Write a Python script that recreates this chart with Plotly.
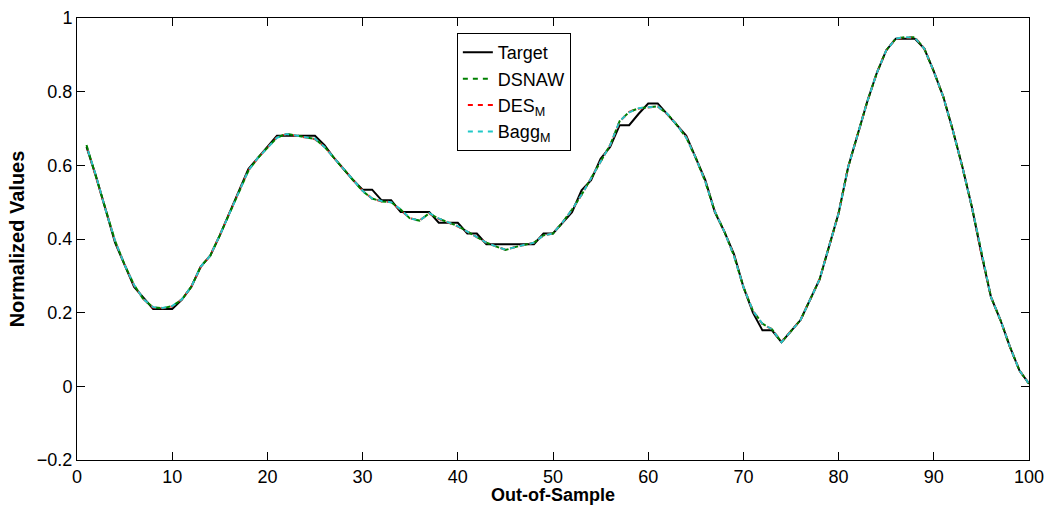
import plotly.graph_objects as go

x_vals = list(range(1, 101))

target = [0.65, 0.57, 0.48, 0.39, 0.33, 0.27, 0.24, 0.21, 0.21, 0.21,
          0.235, 0.27, 0.325, 0.355, 0.41, 0.47, 0.53, 0.59, 0.62, 0.65,
          0.68, 0.68, 0.68, 0.68, 0.68, 0.655, 0.62, 0.59, 0.56, 0.534,
          0.534, 0.505, 0.505, 0.473, 0.473, 0.473, 0.473, 0.444, 0.444, 0.444,
          0.415, 0.415, 0.386, 0.386, 0.386, 0.386, 0.386, 0.386, 0.415, 0.415,
          0.444, 0.473, 0.532, 0.56, 0.618, 0.65, 0.709, 0.709, 0.74, 0.768,
          0.768, 0.74, 0.71, 0.68, 0.62, 0.56, 0.473, 0.42, 0.36, 0.27,
          0.2, 0.152, 0.152, 0.12, 0.15, 0.18, 0.235, 0.29, 0.38, 0.47,
          0.595, 0.686, 0.772, 0.85, 0.912, 0.944, 0.944, 0.944, 0.917, 0.855,
          0.786, 0.695, 0.596, 0.487, 0.36, 0.243, 0.18, 0.107, 0.043, 0.007]

dsnaw = [0.655, 0.57, 0.48, 0.395, 0.33, 0.275, 0.235, 0.215, 0.212, 0.218,
         0.235, 0.27, 0.325, 0.355, 0.41, 0.47, 0.53, 0.585, 0.62, 0.648,
         0.675, 0.686, 0.68, 0.676, 0.672, 0.65, 0.62, 0.59, 0.56, 0.53,
         0.51, 0.502, 0.5, 0.48, 0.455, 0.45, 0.47, 0.455, 0.445, 0.435,
         0.42, 0.405, 0.39, 0.38, 0.37, 0.378, 0.383, 0.39, 0.41, 0.415,
         0.445, 0.48, 0.52, 0.565, 0.61, 0.655, 0.72, 0.745, 0.755, 0.758,
         0.76, 0.74, 0.71, 0.675, 0.62, 0.555, 0.475, 0.42, 0.355, 0.27,
         0.205, 0.17, 0.155, 0.12, 0.15, 0.18, 0.235, 0.29, 0.38, 0.47,
         0.595, 0.686, 0.772, 0.85, 0.912, 0.944, 0.948, 0.948, 0.917, 0.855,
         0.786, 0.695, 0.596, 0.487, 0.36, 0.243, 0.18, 0.107, 0.043, 0.007]

des_m = [0.654, 0.57, 0.481, 0.394, 0.331, 0.274, 0.236, 0.214, 0.212, 0.217,
         0.236, 0.27, 0.324, 0.356, 0.41, 0.47, 0.53, 0.586, 0.62, 0.648,
         0.676, 0.685, 0.68, 0.676, 0.671, 0.65, 0.62, 0.59, 0.56, 0.531,
         0.51, 0.502, 0.5, 0.479, 0.456, 0.451, 0.469, 0.455, 0.445, 0.434,
         0.42, 0.405, 0.39, 0.38, 0.371, 0.378, 0.383, 0.39, 0.41, 0.415,
         0.445, 0.479, 0.52, 0.565, 0.61, 0.655, 0.719, 0.745, 0.754, 0.758,
         0.76, 0.739, 0.71, 0.676, 0.62, 0.556, 0.475, 0.42, 0.356, 0.27,
         0.205, 0.169, 0.155, 0.121, 0.15, 0.18, 0.235, 0.29, 0.38, 0.47,
         0.595, 0.686, 0.772, 0.85, 0.912, 0.944, 0.947, 0.948, 0.917, 0.855,
         0.786, 0.695, 0.596, 0.487, 0.36, 0.243, 0.18, 0.107, 0.043, 0.007]

bagg_m = [0.653, 0.571, 0.48, 0.395, 0.33, 0.275, 0.236, 0.215, 0.213, 0.218,
          0.236, 0.27, 0.325, 0.355, 0.41, 0.47, 0.53, 0.586, 0.62, 0.649,
          0.675, 0.685, 0.681, 0.676, 0.672, 0.65, 0.62, 0.59, 0.56, 0.531,
          0.51, 0.503, 0.5, 0.48, 0.456, 0.45, 0.47, 0.456, 0.445, 0.435,
          0.42, 0.405, 0.39, 0.38, 0.371, 0.378, 0.384, 0.39, 0.41, 0.415,
          0.445, 0.48, 0.52, 0.565, 0.61, 0.655, 0.72, 0.744, 0.755, 0.758,
          0.76, 0.74, 0.71, 0.675, 0.62, 0.556, 0.475, 0.42, 0.355, 0.27,
          0.205, 0.17, 0.155, 0.12, 0.15, 0.18, 0.235, 0.29, 0.38, 0.47,
          0.595, 0.686, 0.772, 0.85, 0.912, 0.944, 0.948, 0.947, 0.917, 0.855,
          0.786, 0.695, 0.596, 0.487, 0.36, 0.243, 0.18, 0.107, 0.043, 0.007]

x_ticks = [0, 10, 20, 30, 40, 50, 60, 70, 80, 90, 100]
y_ticks = [-0.2, 0, 0.2, 0.4, 0.6, 0.8, 1]
y_tick_labels = ["\u22120.2", "0", "0.2", "0.4", "0.6", "0.8", "1"]

font_family = "Liberation Sans, Arial, Helvetica, sans-serif"

fig = go.Figure()
fig.add_trace(go.Scatter(x=x_vals, y=target, mode="lines", name="Target",
                         line=dict(color="black", width=2)))
fig.add_trace(go.Scatter(x=x_vals, y=dsnaw, mode="lines", name="DSNAW",
                         line=dict(color="#008000", width=2, dash="5px,5px")))
fig.add_trace(go.Scatter(x=x_vals, y=des_m, mode="lines", name="DES<sub>M</sub>",
                         line=dict(color="#ff0000", width=2, dash="0px,5px,5px,0px")))
fig.add_trace(go.Scatter(x=x_vals, y=bagg_m, mode="lines", name="Bagg<sub>M</sub>",
                         line=dict(color="#20c8c8", width=2, dash="0px,5px,5px,0px")))

axis_common = dict(showgrid=False, zeroline=False, showline=True, linecolor="black",
                   linewidth=1, mirror="ticks", ticks="inside", ticklen=8,
                   tickcolor="black", automargin=False, ticklabeloverflow="allow",
                   tickfont=dict(family=font_family, size=18, color="black"))

fig.update_layout(
    width=1046, height=505,
    margin=dict(l=77, r=17, t=18, b=45),
    paper_bgcolor="white", plot_bgcolor="white",
    font=dict(family=font_family, color="black"),
    xaxis=dict(range=[0, 100], tickvals=x_ticks, **axis_common,
               title=dict(text="<b>Out-of-Sample</b>", font=dict(size=18), standoff=0)),
    yaxis=dict(range=[-0.2, 1], tickvals=y_ticks, ticktext=y_tick_labels, **axis_common,
               title=dict(text="<b>Normalized Values</b>", font=dict(size=20), standoff=6)),
    legend=dict(x=0.399, y=0.966, xanchor="left", yanchor="top",
                bgcolor="white", bordercolor="black", borderwidth=1,
                font=dict(family=font_family, size=18, color="black"),
                tracegroupgap=0, itemwidth=30),
    showlegend=True,
)

fig.write_html("out.html", config={"displayModeBar": False},
               post_script="document.body.style.margin='0px';")
